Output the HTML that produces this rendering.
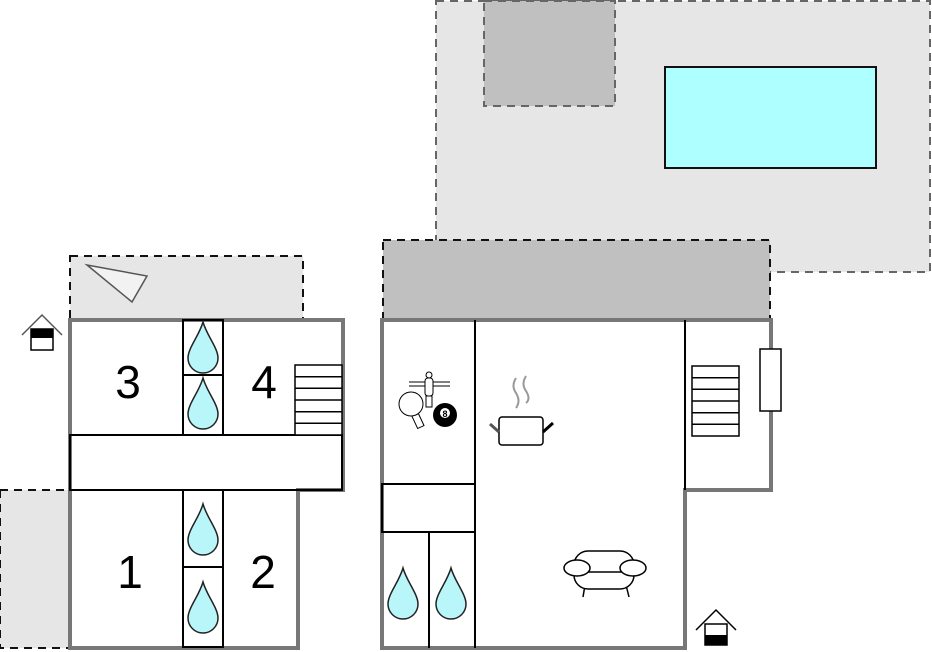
<!DOCTYPE html>
<html><head><meta charset="utf-8"><style>html,body{margin:0;padding:0;background:#fff}svg{display:block}</style></head>
<body>
<svg width="932" height="652" viewBox="0 0 932 652" xmlns="http://www.w3.org/2000/svg" font-family="Liberation Sans, sans-serif">
<defs>
<g id="drop"><path d="M0,-26 C-4,-12 -15,0 -15,10 A15,15 0 0 0 15,10 C15,0 4,-12 0,-26 Z" fill="#b8f6fa" stroke="#222" stroke-width="1.5"/></g>
<g id="stairs" fill="#fff" stroke="#000" stroke-width="1.5">
<rect x="0" y="0" width="47" height="70"/>
<line x1="0" y1="11.7" x2="47" y2="11.7"/><line x1="0" y1="23.3" x2="47" y2="23.3"/><line x1="0" y1="35" x2="47" y2="35"/><line x1="0" y1="46.7" x2="47" y2="46.7"/><line x1="0" y1="58.3" x2="47" y2="58.3"/>
</g>
</defs>
<!-- top right terrace -->
<rect x="436" y="1" width="494" height="271" fill="#e6e6e6" stroke="#666" stroke-width="2" stroke-dasharray="8,6"/>
<rect x="484" y="1" width="131" height="105" fill="#c0c0c0" stroke="#666" stroke-width="2" stroke-dasharray="8,6"/>
<rect x="665" y="67" width="211" height="101" fill="#aeffff" stroke="#111" stroke-width="2"/>
<!-- right top grey -->
<rect x="383" y="240" width="387" height="80" fill="#c0c0c0" stroke="#111" stroke-width="2" stroke-dasharray="8,6"/>
<!-- left terraces -->
<rect x="70" y="256" width="233" height="64" fill="#e6e6e6" stroke="#111" stroke-width="2" stroke-dasharray="8,6"/>
<polygon points="87,265 147,276 132,302" fill="#f2f2f2" stroke="#555" stroke-width="1.5"/>
<rect x="0" y="490" width="70" height="158" fill="#e6e6e6" stroke="#111" stroke-width="2" stroke-dasharray="8,6"/>
<!-- left building -->
<path d="M70,320 H343 V490 H298 V648 H70 Z" fill="#fff" stroke="#777" stroke-width="4"/>
<g fill="none" stroke="#000" stroke-width="2">
<rect x="70" y="435" width="272" height="55"/>
<rect x="183" y="320" width="40" height="115"/>
<line x1="183" y1="375" x2="223" y2="375"/>
<rect x="183" y="490" width="40" height="157"/>
<line x1="183" y1="567" x2="223" y2="567"/>
</g>
<use href="#drop" x="203" y="348"/>
<use href="#drop" x="203" y="404"/>
<use href="#drop" x="203" y="530"/>
<use href="#drop" x="203" y="608"/>
<use href="#stairs" x="295" y="365"/>
<g font-size="46" fill="#000" text-anchor="middle">
<text x="128" y="398">3</text><text x="264" y="398">4</text>
<text x="130" y="588">1</text><text x="263" y="588">2</text>
</g>
<!-- entrance icons -->
<g stroke="#555" stroke-width="1.5" fill="none"><polyline points="22,335 42,315 62,335"/></g>
<rect x="31" y="329" width="22" height="21" fill="#fff" stroke="#000" stroke-width="1.5"/>
<rect x="31" y="329" width="22" height="9" fill="#000"/>
<g stroke="#000" stroke-width="1.5" fill="none"><polyline points="696,630 716,610 736,630"/></g>
<rect x="705" y="624" width="22" height="21" fill="#fff" stroke="#000" stroke-width="1.5"/>
<rect x="705" y="635" width="22" height="10" fill="#000"/>
<!-- right building -->
<path d="M382,320 H771 V490 H685 V648 H382 Z" fill="#fff" stroke="#777" stroke-width="4"/>
<g fill="none" stroke="#000" stroke-width="2">
<line x1="475" y1="320" x2="475" y2="648"/>
<line x1="685" y1="320" x2="685" y2="490"/>
<rect x="382" y="484" width="93" height="48"/>
<line x1="429" y1="532" x2="429" y2="648"/>
</g>
<rect x="760" y="349" width="21" height="62" fill="#fff" stroke="#000" stroke-width="1.5"/>
<use href="#stairs" x="692" y="366"/>
<use href="#drop" x="403" y="594"/>
<use href="#drop" x="451" y="594"/>
<!-- games icon -->
<g stroke="#000" stroke-width="1" fill="#fff">
<line x1="409" y1="382" x2="450" y2="382"/><line x1="409" y1="386" x2="450" y2="386"/>
<circle cx="429" cy="375" r="3"/>
<rect x="425" y="378" width="8" height="18" rx="3"/>
<rect x="426" y="396" width="6" height="11"/>
<rect x="414" y="412" width="7" height="16" transform="rotate(-25 417 420)"/>
<circle cx="411" cy="404" r="12"/>
</g>
<circle cx="445" cy="415" r="12" fill="#000"/>
<circle cx="445" cy="413" r="5" fill="#fff"/>
<text x="445" y="417" font-size="9" font-weight="bold" text-anchor="middle">8</text>
<!-- cooking pot -->
<path d="M516,378 q-5,8 0,15 q5,8 0,15 M526,376 q-5,8 0,15 q5,8 0,12" fill="none" stroke="#999" stroke-width="2"/>
<rect x="499" y="417" width="44" height="28" rx="3" fill="#fff" stroke="#000" stroke-width="1.5"/>
<line x1="490" y1="424" x2="499" y2="432" stroke="#555" stroke-width="3"/>
<line x1="543" y1="432" x2="553" y2="423" stroke="#000" stroke-width="3"/>
<!-- sofa -->
<g fill="#fff" stroke="#000" stroke-width="1.5">
<line x1="585" y1="585" x2="583" y2="597"/><line x1="626" y1="585" x2="629" y2="597"/>
<rect x="574" y="551" width="60" height="38" rx="14"/>
<line x1="583" y1="572" x2="626" y2="572"/>
<ellipse cx="577" cy="568" rx="13" ry="8"/>
<ellipse cx="633" cy="568" rx="13" ry="8"/>
</g>
</svg>
</body></html>
